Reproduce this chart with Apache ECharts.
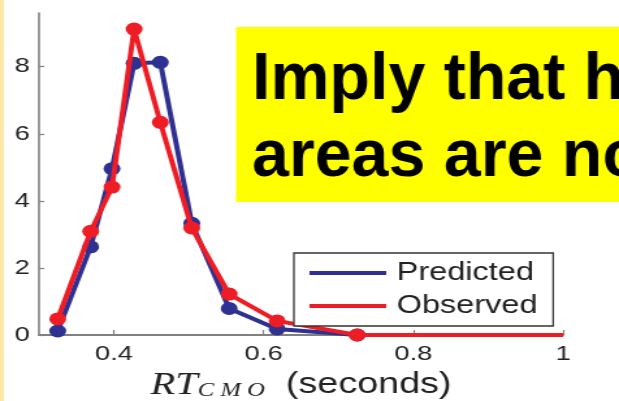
<!DOCTYPE html>
<html>
<head>
<meta charset="utf-8">
<script src="https://cdn.jsdelivr.net/npm/echarts@6/dist/echarts.min.js"></script>
<style>
  html, body { margin: 0; padding: 0; background: #ffffff; overflow: hidden; }
  #stage { position: absolute; left: 0; top: 0; width: 619px; height: 401px; overflow: hidden; }
  /* the figure is drawn narrow and widened horizontally, like the stretched slide graphic */
  #chart { position: absolute; left: 0; top: 0; width: 476px; height: 401px; transform-origin: 0 0; }
</style>
</head>
<body>
<div id="stage"><div id="chart"></div></div>
<script>
// Response-time bins (seconds) and densities
const rtBins    = [0.325, 0.369, 0.3975, 0.427, 0.462, 0.504, 0.554, 0.618, 0.725, 1.0];
const predicted = [0.12, 2.63, 4.96, 8.10, 8.13, 3.33, 0.79, 0.18, 0, 0];
const observed  = [0.48, 3.09, 4.41, 9.12, 6.34, 3.19, 1.22, 0.42, 0, 0];
const xTicks = [0.4, 0.6, 0.8, 1];
const yTicks = [0, 2, 4, 6, 8];
const seriesNames = ['Predicted', 'Observed'];
const noteLines = ['Imply that hi', 'areas are no'];

const STAGE_W = 619;
const CHART_W = 476;
const SX = STAGE_W / CHART_W;
document.getElementById('chart').style.transform = 'scaleX(' + SX + ')';

function toPoints(xs, ys) {
  return xs.map((x, i) => i === xs.length - 1
    ? { value: [x, ys[i]], symbol: 'none' }
    : [x, ys[i]]);
}

const chart = echarts.init(document.getElementById('chart'), null, { renderer: 'canvas', devicePixelRatio: 1 });

const sans = '"Liberation Sans", Arial, sans-serif';
const serif = '"Liberation Serif", "Times New Roman", serif';
// the slide note is not widened, so undo the container stretch for it
const noteScale = 1.005 / SX;

chart.setOption({
  animation: false,
  backgroundColor: '#ffffff',
  grid: { left: 30, right: 43, top: 13, bottom: 66, outerBoundsMode: 'none', containLabel: false },
  xAxis: {
    type: 'value',
    min: 0.3,
    max: 1,
    axisLine: { lineStyle: { color: '#808080', width: 2 } },
    axisTick: { inside: true, length: 5, customValues: xTicks, lineStyle: { color: '#808080', width: 1.2 } },
    axisLabel: { customValues: xTicks, margin: 9, color: '#222', fontFamily: sans, fontSize: 21,
      formatter: v => String(v) },
    splitLine: { show: false },
    name: '{rt|RT}{sub|C M O}{s|  (seconds)}',
    nameLocation: 'middle',
    nameGap: 33,
    nameTextStyle: {
      color: '#222',
      rich: {
        rt: { fontFamily: serif, fontStyle: 'italic', fontSize: 31, color: '#222', verticalAlign: 'middle' },
        sub: { fontFamily: serif, fontStyle: 'italic', fontSize: 19, color: '#222', verticalAlign: 'bottom' },
        s: { fontFamily: sans, fontSize: 29, color: '#222', verticalAlign: 'middle' }
      }
    }
  },
  yAxis: {
    type: 'value',
    min: 0,
    max: 9.6,
    axisLine: { show: true, lineStyle: { color: '#808080', width: 1.6 } },
    axisTick: { show: true, inside: true, length: 4, customValues: yTicks, lineStyle: { color: '#808080', width: 1.2 } },
    axisLabel: { customValues: yTicks, margin: 7, color: '#222', fontFamily: sans, fontSize: 21 },
    splitLine: { show: false }
  },
  legend: {
    orient: 'vertical',
    left: 226,
    top: 253,
    data: seriesNames,
    icon: 'rect',
    itemWidth: 59,
    itemHeight: 4,
    itemGap: 8,
    padding: [7.5, 12, 7.5, 12],
    backgroundColor: '#ffffff',
    borderColor: '#333333',
    borderWidth: 1.3,
    borderRadius: 0,
    textStyle: { fontFamily: sans, fontSize: 25, lineHeight: 25, color: '#222', padding: [0, 0, 0, 3] }
  },
  graphic: [
    { type: 'rect', left: 0, top: 0, shape: { x: 0, y: 0, width: 4 / SX, height: 401 },
      style: { fill: '#FFE7A8' }, silent: true },
    { type: 'rect', shape: { x: 236 / SX, y: 27, width: (STAGE_W - 236) / SX + 2, height: 175 },
      style: { fill: '#FFFF00' }, silent: true, z: 10 },
    { type: 'text', x: 252 / SX, y: 80.4, scaleX: noteScale, z: 11, silent: true,
      style: { text: noteLines[0], fontFamily: sans, fontWeight: 'bold', fontSize: 66, fill: '#000', verticalAlign: 'middle' } },
    { type: 'text', x: 252 / SX, y: 157.4, scaleX: noteScale, z: 11, silent: true,
      style: { text: noteLines[1], fontFamily: sans, fontWeight: 'bold', fontSize: 66, fill: '#000', verticalAlign: 'middle' } }
  ],
  series: [
    {
      name: seriesNames[0],
      type: 'line',
      data: toPoints(rtBins, predicted),
      symbol: 'circle',
      symbolSize: 13,
      clip: false,
      color: '#2E3192',
      lineStyle: { width: 4, color: '#2E3192' },
      itemStyle: { color: '#2E3192' },
      z: 2
    },
    {
      name: seriesNames[1],
      type: 'line',
      data: toPoints(rtBins, observed),
      symbol: 'circle',
      symbolSize: 13,
      clip: false,
      color: '#EE1D25',
      lineStyle: { width: 4, color: '#EE1D25' },
      itemStyle: { color: '#EE1D25' },
      z: 3
    }
  ]
});
</script>
</body>
</html>
